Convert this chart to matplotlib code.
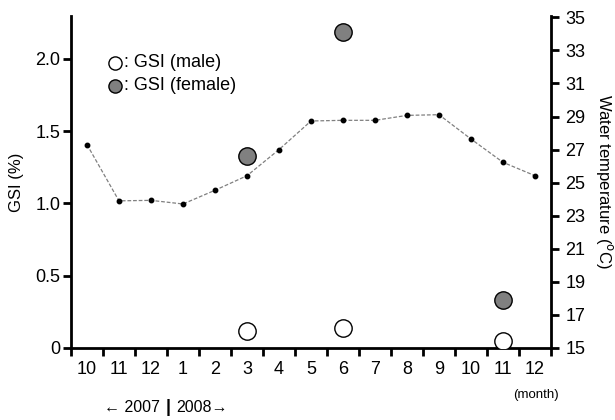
import matplotlib
matplotlib.use("Agg")
import matplotlib.pyplot as plt
import numpy as np

plt.rcParams['font.family'] = ['Liberation Sans', 'DejaVu Sans']

months = ["10", "11", "12", "1", "2", "3", "4", "5", "6", "7", "8", "9", "10", "11", "12"]
water_temp = [27.3, 23.9, 23.93, 23.71, 24.54, 25.42, 27.0, 28.73, 28.77, 28.77, 29.07, 29.11, 27.64, 26.23, 25.42]
gsi_months_idx = [5, 8, 13]
gsi_male = [0.12, 0.138, 0.05]
gsi_female = [1.328, 2.185, 0.33]

fig = plt.figure(figsize=(6.15, 4.2), dpi=100)
ax = fig.add_axes([71/615, 72/420, 480/615, 332/420])
ax2 = ax.twinx()

x = np.arange(len(months))

ax2.plot(x, water_temp, color='#808080', lw=0.9, linestyle=(0, (3, 1.5)), zorder=2)
ax2.plot(x, water_temp, 'o', color='black', ms=3.2, zorder=3)

ax.plot(gsi_months_idx, gsi_male, 'o', ms=12.5, mfc='white', mec='black', mew=1.0, zorder=4)
ax.plot(gsi_months_idx, gsi_female, 'o', ms=12.5, mfc='#808080', mec='black', mew=1.0, zorder=4)

ax.set_xlim(-0.5, len(months) - 0.5)
ax.set_ylim(0, 2.296)
ax2.set_ylim(15, 35.08)

ax.set_xticks(np.arange(-0.5, len(months), 1.0))
ax.set_xticklabels([])
ax.set_xticks(x, minor=True)
ax.set_xticklabels(months, minor=True)
ax.tick_params(axis='x', which='major', direction='out', length=5.5, width=2)
ax.tick_params(axis='x', which='minor', length=0, pad=9, labelsize=13)

ax.set_yticks([0, 0.5, 1.0, 1.5, 2.0])
ax.set_yticklabels(["0", "0.5", "1.0", "1.5", "2.0"])
ax.tick_params(axis='y', direction='out', length=5.5, width=2, labelsize=13, pad=2)

ax2.set_yticks(np.arange(15, 36, 2))
ax2.tick_params(axis='y', direction='out', length=5.5, width=2, labelsize=13, pad=5)

for a in (ax, ax2):
    a.spines['top'].set_visible(False)
    for s in ('left', 'right', 'bottom'):
        a.spines[s].set_linewidth(2)
ax.spines['right'].set_visible(False)
ax2.spines['left'].set_visible(False)
ax2.spines['bottom'].set_visible(False)

ax.set_ylabel("GSI (%)", fontsize=12, labelpad=8)
ax2.set_ylabel("Water temperature ($^{\\rm o}$C)", fontsize=12, rotation=270, labelpad=21)

# legend drawn as markers + text
fig.add_artist(plt.Line2D([115/615], [1 - 62.5/420], marker='o', ms=9.5, mfc='white', mec='black', mew=1.0, transform=fig.transFigure))
fig.add_artist(plt.Line2D([115/615], [1 - 86/420], marker='o', ms=9.5, mfc='#808080', mec='black', mew=1.0, transform=fig.transFigure))
fig.text(123.5/615, 1 - 62.5/420, ": GSI (male)", fontsize=13, va='center', ha='left')
fig.text(123.5/615, 1 - 86/420, ": GSI (female)", fontsize=13, va='center', ha='left')

fig.text(536/615, 1 - 395/420, "(month)", fontsize=9.5, ha='center', va='center')
fig.text(104/615, 1 - 408/420, "\u2190 2007", fontsize=11.5, ha='left', va='center')
fig.text(168/615, 1 - 408/420, "|", fontsize=13, ha='center', va='center', fontweight='bold')
fig.text(176/615, 1 - 408/420, "2008\u2192", fontsize=11.5, ha='left', va='center')

fig.savefig("out.png", dpi=100)
